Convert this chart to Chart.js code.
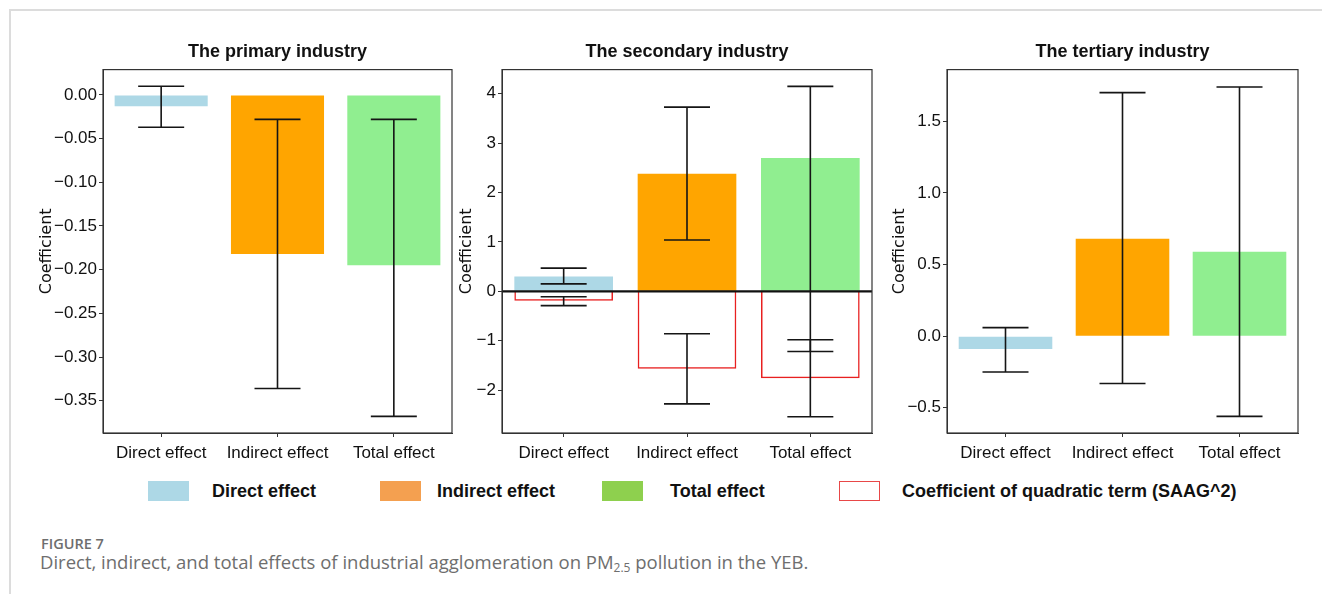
<!DOCTYPE html>
<html>
<head>
<meta charset="utf-8">
<script src="https://cdn.jsdelivr.net/npm/chart.js@4.4.1/dist/chart.umd.min.js"></script>
<style>
  body { margin: 0; background: #fff; width: 1322px; height: 594px; overflow: hidden; position: relative; font-family: "Liberation Sans", Arial, sans-serif; }
  .frame { position: absolute; left: 9px; top: 9px; width: 1400px; height: 700px; border-left: 2px solid #dcdcdc; border-top: 2px solid #dcdcdc; }
  .panel { position: absolute; top: 30px; height: 440px; }
  .legend-box { position: absolute; top: 481px; width: 41px; height: 20px; box-sizing: border-box; }
  .legend-text { position: absolute; top: 480px; font: bold 18px "Liberation Sans", Arial, sans-serif; color: #111; line-height: 22px; white-space: nowrap; }
  .fig-label { position: absolute; left: 41px; top: 534px; font: 600 14.5px "Open Sans", sans-serif; color: #6e6e6e; }
  .fig-caption { position: absolute; left: 40px; top: 549px; font: 400 18.5px "Open Sans", sans-serif; color: #6e6e6e; white-space: nowrap; }
  .fig-caption sub { font-size: 12px; vertical-align: -3px; line-height: 0; }
</style>
</head>
<body>
<div class="frame"></div>

<div class="panel" style="left:20px;width:440px;"><canvas id="primary"></canvas></div>
<div class="panel" style="left:450px;width:430px;"><canvas id="secondary"></canvas></div>
<div class="panel" style="left:880px;width:442px;"><canvas id="tertiary"></canvas></div>

<div class="legend-box" style="left:148px;background:#add8e6;"></div>
<div class="legend-text" style="left:212px;">Direct effect</div>
<div class="legend-box" style="left:380px;background:#f4a050;"></div>
<div class="legend-text" style="left:437px;">Indirect effect</div>
<div class="legend-box" style="left:602px;background:#8ed04e;"></div>
<div class="legend-text" style="left:670px;">Total effect</div>
<div class="legend-box" style="left:839px;background:#fff;border:1.5px solid #e84848;"></div>
<div class="legend-text" style="left:902px;">Coefficient of quadratic term (SAAG^2)</div>

<div class="fig-label">FIGURE 7</div>
<div class="fig-caption">Direct, indirect, and total effects of industrial agglomeration on PM<sub>2.5</sub> pollution in the YEB.</div>

<script>
const categories = ["Direct effect", "Indirect effect", "Total effect"];
const barColors = ["#add8e6", "#ffa500", "#90ee90"];

// The primary industry
const primaryValues = [-0.013, -0.182, -0.195];
const primaryErrLow = [-0.037, -0.336, -0.368];
const primaryErrHigh = [0.010, -0.028, -0.028];
const primaryTicks = [0, -0.05, -0.10, -0.15, -0.20, -0.25, -0.30, -0.35];

// The secondary industry
const secondaryValues = [0.30, 2.38, 2.70];
const secondaryErrLow = [0.15, 1.04, -1.22];
const secondaryErrHigh = [0.47, 3.73, 4.15];
const quadraticValues = [-0.19, -1.57, -1.76];
const quadraticErrLow = [-0.29, -2.28, -2.54];
const quadraticErrHigh = [-0.11, -0.86, -0.98];
const secondaryTicks = [-2, -1, 0, 1, 2, 3, 4];

// The tertiary industry
const tertiaryValues = [-0.09, 0.68, 0.59];
const tertiaryErrLow = [-0.25, -0.33, -0.56];
const tertiaryErrHigh = [0.06, 1.70, 1.74];
const tertiaryTicks = [-0.5, 0, 0.5, 1.0, 1.5];

const tickFont = { family: "Liberation Sans", size: 17 };
const axisColor = "#333";

// error bars, frame, and optional zero line
const extrasPlugin = {
  id: "extras",
  afterDatasetsDraw(chart) {
    const { ctx, chartArea, scales } = chart;
    const y = scales.y;
    ctx.save();
    if (chart.options.zeroLine) {
      const zy = y.getPixelForValue(0);
      ctx.strokeStyle = "#111";
      ctx.lineWidth = 2.2;
      ctx.beginPath();
      ctx.moveTo(chartArea.left, zy);
      ctx.lineTo(chartArea.right, zy);
      ctx.stroke();
    }
    ctx.strokeStyle = "#151515";
    ctx.lineWidth = 1.6;
    chart.data.datasets.forEach((ds, i) => {
      if (!ds.errLow) return;
      const meta = chart.getDatasetMeta(i);
      meta.data.forEach((bar, j) => {
        const lo = y.getPixelForValue(ds.errLow[j]);
        const hi = y.getPixelForValue(ds.errHigh[j]);
        const cap = 23;
        ctx.beginPath();
        ctx.moveTo(bar.x, lo); ctx.lineTo(bar.x, hi);
        ctx.moveTo(bar.x - cap, lo); ctx.lineTo(bar.x + cap, lo);
        ctx.moveTo(bar.x - cap, hi); ctx.lineTo(bar.x + cap, hi);
        ctx.stroke();
      });
    });
    ctx.strokeStyle = axisColor;
    ctx.lineWidth = 1.2;
    ctx.strokeRect(chartArea.left, chartArea.top, chartArea.right - chartArea.left, chartArea.bottom - chartArea.top);
    ctx.restore();
  }
};

function fmt(v, dec) {
  return v.toFixed(dec).replace("-", "\u2212");
}

function makePanel(id, title, datasets, opts) {
  new Chart(document.getElementById(id), {
    type: "bar",
    data: { labels: categories, datasets: datasets },
    plugins: [extrasPlugin],
    options: {
      responsive: true,
      maintainAspectRatio: false,
      animation: false,
      zeroLine: opts.zeroLine,
      layout: { padding: { left: 0, right: opts.padRight, top: 0, bottom: 0 } },
      plugins: {
        legend: { display: false },
        tooltip: { enabled: false },
        title: {
          display: true,
          text: title,
          fullSize: false,
          color: "#111",
          font: { family: "Liberation Sans", size: 18, weight: "bold" },
          padding: { top: 11, bottom: 7 }
        }
      },
      scales: {
        x: {
          grid: { offset: false, drawOnChartArea: false, tickLength: 4, color: axisColor },
          border: { color: axisColor },
          ticks: { color: "#111", font: tickFont, padding: 6, maxRotation: 0, autoSkip: false },
          afterFit: s => { s.height = 37; }
        },
        y: {
          min: opts.min,
          max: opts.max,
          grid: { drawOnChartArea: false, tickLength: 4, color: axisColor },
          border: { color: axisColor },
          ticks: { color: "#111", font: tickFont, padding: 2, callback: v => fmt(v, opts.dec) },
          afterBuildTicks: s => { s.ticks = opts.ticks.map(v => ({ value: v })); },
          afterFit: s => { s.width = opts.axisWidth; },
          title: {
            display: true,
            text: "Coefficient",
            color: "#111",
            font: { family: "DejaVu Sans", size: 16 },
            padding: { top: opts.titlePad, bottom: 0 }
          }
        }
      }
    }
  });
}

makePanel("primary", "The primary industry", [
  { data: primaryValues, backgroundColor: barColors, borderWidth: 0,
    categoryPercentage: 0.8, barPercentage: 1, errLow: primaryErrLow, errHigh: primaryErrHigh }
], { min: -0.387, max: 0.029, ticks: primaryTicks, dec: 2, axisWidth: 83, padRight: 8, titlePad: 17, zeroLine: false });

makePanel("secondary", "The secondary industry", [
  { data: secondaryValues, backgroundColor: barColors, borderWidth: 0, grouped: false,
    categoryPercentage: 0.8, barPercentage: 1, errLow: secondaryErrLow, errHigh: secondaryErrHigh },
  { data: quadraticValues, backgroundColor: "rgba(255,255,255,0)", borderColor: "#e82020", borderWidth: 1.5,
    grouped: false, categoryPercentage: 0.8, barPercentage: 1, errLow: quadraticErrLow, errHigh: quadraticErrHigh }
], { min: -2.87, max: 4.49, ticks: secondaryTicks, dec: 0, axisWidth: 52, padRight: 8, titlePad: 7, zeroLine: true });

makePanel("tertiary", "The tertiary industry", [
  { data: tertiaryValues, backgroundColor: barColors, borderWidth: 0,
    categoryPercentage: 0.8, barPercentage: 1, errLow: tertiaryErrLow, errHigh: tertiaryErrHigh }
], { min: -0.676, max: 1.861, ticks: tertiaryTicks, dec: 1, axisWidth: 67, padRight: 24, titlePad: 10, zeroLine: false });
</script>
</body>
</html>
